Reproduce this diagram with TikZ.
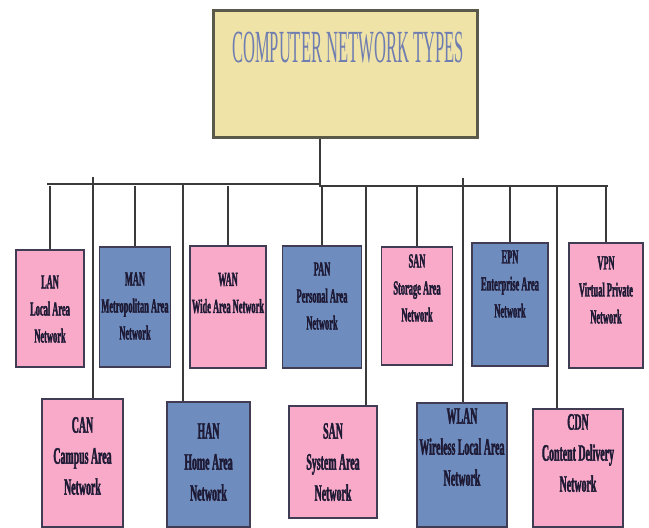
\documentclass[tikz,border=0pt]{standalone}
\usepackage{fontspec}
\setmainfont{Liberation Serif}
\newfontfamily\labelfont[FakeStretch=0.42, FakeBold=1.6]{Liberation Serif}[UprightFont=*-Bold]
\newfontfamily\titlefont[FakeStretch=0.36]{Liberation Serif}
\definecolor{titlefill}{HTML}{EFE3A8}
\definecolor{titleline}{HTML}{5B5A4A}
\definecolor{titleink}{HTML}{6F7DB0}
\definecolor{netpink}{HTML}{F9AAC9}
\definecolor{netblue}{HTML}{6E8CBE}
\definecolor{netink}{HTML}{1E1A35}
\definecolor{wire}{HTML}{3A3A3A}
\tikzset{
  netbox/.style={rectangle, draw=netink!85, line width=1.6pt, inner sep=0pt},
  pinkbox/.style={netbox, fill=netpink},
  bluebox/.style={netbox, fill=netblue},
  toplab/.style={align=center, text=netink, font=\labelfont\fontsize{20}{27}\selectfont},
  botlab/.style={align=center, text=netink, font=\labelfont\fontsize{23.5}{31}\selectfont},
  wireline/.style={draw=wire, line width=1.4pt}
}
\begin{document}
\begin{tikzpicture}[x=1pt, y=-1pt]
  \useasboundingbox (0,0) rectangle (649,528);
  % title box
  \node[rectangle, draw=titleline, fill=titlefill, line width=3pt, minimum width=264, minimum height=127] (title) at (345,73.5) {};
  \node[text=titleink, font=\titlefont\fontsize{46}{52}\selectfont] (title-txt) at (348,48) {COMPUTER NETWORK TYPES};
  % upper row
  \node[pinkbox, minimum width=68, minimum height=117] (lan) at (50,308.5) {};
  \node[toplab] (lan-txt) at (50,309) {LAN\\Local Area\\Network};
  \node[bluebox, minimum width=71, minimum height=120] (man) at (135,307) {};
  \node[toplab] (man-txt) at (135,306) {MAN\\Metropolitan Area\\Network};
  \node[pinkbox, minimum width=76, minimum height=122] (wan) at (228,307) {};
  \node[toplab] (wan-txt) at (228,293) {WAN\\Wide Area Network};
  \node[bluebox, minimum width=79, minimum height=122] (pan) at (322,307) {};
  \node[toplab] (pan-txt) at (322,296) {PAN\\Personal Area\\Network};
  \node[pinkbox, minimum width=71, minimum height=118] (stsan) at (417,306) {};
  \node[toplab] (stsan-txt) at (417,288) {SAN\\Storage Area\\Network};
  \node[bluebox, minimum width=76, minimum height=123] (epn) at (510,304.5) {};
  \node[toplab] (epn-txt) at (510,284) {EPN\\Enterprise Area\\Network};
  \node[pinkbox, minimum width=74, minimum height=125] (vpn) at (606,305.5) {};
  \node[toplab] (vpn-txt) at (606,290) {VPN\\Virtual Private\\Network};
  % lower row
  \node[pinkbox, minimum width=81, minimum height=128] (can) at (82.5,463) {};
  \node[botlab] (can-txt) at (82.5,456) {CAN\\Campus Area\\Network};
  \node[bluebox, minimum width=83, minimum height=125] (han) at (208.5,464.5) {};
  \node[botlab] (han-txt) at (208.5,462) {HAN\\Home Area\\Network};
  \node[pinkbox, minimum width=88, minimum height=112] (sysan) at (333,462) {};
  \node[botlab] (sysan-txt) at (333,462) {SAN\\System Area\\Network};
  \node[bluebox, minimum width=90, minimum height=124] (wlan) at (462,465) {};
  \node[botlab] (wlan-txt) at (462,447) {WLAN\\Wireless Local Area\\Network};
  \node[pinkbox, minimum width=90, minimum height=118] (cdn) at (578,468) {};
  \node[botlab] (cdn-txt) at (578,453) {CDN\\Content Delivery\\Network};
  % bus and drops
  \coordinate (hub) at (320,184);
  \coordinate (busw) at (47,184);
  \coordinate (buse) at (608,186);
  \coordinate (can-top) at (93,177);
  \coordinate (han-top) at (183,184);
  \coordinate (sysan-top) at (366,186);
  \coordinate (wlan-top) at (463,178);
  \coordinate (cdn-top) at (557,186);
  \draw[wireline] (hub |- title.south) -- (hub);
  \draw[wireline] (busw) -- (hub) -- (hub |- buse) -- (buse);
  \foreach \net in {lan,man,wan,pan,stsan,epn,vpn}
    \draw[wireline] (\net.north) -- (\net.north |- buse);
  \foreach \net in {can,han,sysan,wlan,cdn}
    \draw[wireline] (\net-top) -- (\net-top |- \net.north);
\end{tikzpicture}
\end{document}
